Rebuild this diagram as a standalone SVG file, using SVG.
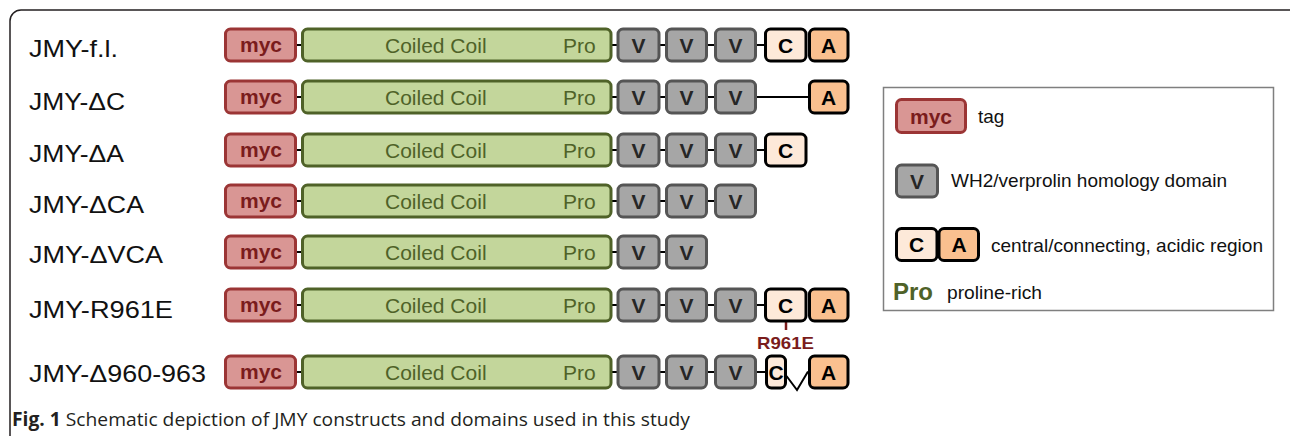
<svg xmlns="http://www.w3.org/2000/svg" width="1290" height="436" viewBox="0 0 1290 436">
<style>
.lbl{font-family:"Liberation Sans",Arial,sans-serif;font-size:24px;fill:#111}
.myc{fill:#d99694;stroke:#9b3535;stroke-width:3}
.coil{fill:#c3d69b;stroke:#4f6228;stroke-width:3}
.v{fill:#a6a6a6;stroke:#555;stroke-width:3}
.c{fill:#fde9d9;stroke:#000;stroke-width:3}
.a{fill:#fac08f;stroke:#000;stroke-width:3}
.tm{font-family:"Liberation Sans",Arial,sans-serif;font-size:21px;font-weight:bold;fill:#7a1c1c;text-anchor:middle}
.tc{font-family:"Liberation Sans",Arial,sans-serif;font-size:21px;fill:#4f6228}
.tv{font-family:"Liberation Sans",Arial,sans-serif;font-size:21px;font-weight:bold;fill:#262626;text-anchor:middle}
.tk{font-family:"Liberation Sans",Arial,sans-serif;font-size:21px;font-weight:bold;fill:#000;text-anchor:middle}
.lg{font-family:"Liberation Sans",Arial,sans-serif;font-size:19px;fill:#111}
.ln{stroke:#000;stroke-width:2;fill:none}
</style>
<defs>
<g id="myc"><rect class="myc" x="225.5" y="-16" width="70" height="32" rx="5"/><text class="tm" x="261" y="7">myc</text></g>
<g id="coil"><rect class="coil" x="302.5" y="-16" width="308.5" height="32" rx="5"/><text class="tc" x="385" y="7.5">Coiled Coil</text><text class="tc" x="563" y="7.5">Pro</text></g>
<g id="v1"><rect class="v" x="618" y="-16" width="41" height="32" rx="5"/><text class="tv" x="638.5" y="7.5">V</text></g>
<g id="v2"><rect class="v" x="666.5" y="-16" width="40" height="32" rx="5"/><text class="tv" x="686.5" y="7.5">V</text></g>
<g id="v3"><rect class="v" x="715.5" y="-16" width="40" height="32" rx="5"/><text class="tv" x="735.5" y="7.5">V</text></g>
<g id="cbox"><rect class="c" x="765.5" y="-16" width="40.5" height="32" rx="5"/><text class="tk" x="785.5" y="7.5">C</text></g>
<g id="abox"><rect class="a" x="809.5" y="-16" width="38.5" height="32" rx="5"/><text class="tk" x="828.5" y="7.5">A</text></g>
</defs>
<rect x="10" y="10" width="1300" height="450" rx="11" fill="none" stroke="#231f20" stroke-width="1.5"/>

<g id="connectors">
<path class="ln" d="M296 45H302M611 45H618M659 45H666M706 45H715M755 45H765"/>
<path class="ln" d="M296 97H302M611 97H618M659 97H666M706 97H715M755 97H809"/>
<path class="ln" d="M296 150H302M611 150H618M659 150H666M706 150H715M755 150H765"/>
<path class="ln" d="M296 201H302M611 201H618M659 201H666M706 201H715"/>
<path class="ln" d="M296 252H302M611 252H618M659 252H666"/>
<path class="ln" d="M296 305H302M611 305H618M659 305H666M706 305H715M755 305H765"/>
<path class="ln" d="M296 372H302M611 372H618M659 372H666M706 372H715M755 372H766"/>
<polyline class="ln" points="786.5,376 797,390 808,371.5"/>
<line x1="786" y1="322" x2="786" y2="330" stroke="#7a1c1c" stroke-width="2.5"/>
</g>

<g id="row-fl">
<text class="lbl" x="29" y="57" textLength="89" lengthAdjust="spacingAndGlyphs">JMY-f.l.</text>
<use href="#myc" y="45"/><use href="#coil" y="45"/><use href="#v1" y="45"/><use href="#v2" y="45"/><use href="#v3" y="45"/><use href="#cbox" y="45"/><use href="#abox" y="45"/>
</g>
<g id="row-dC">
<text class="lbl" x="29" y="110" textLength="96" lengthAdjust="spacingAndGlyphs">JMY-ΔC</text>
<use href="#myc" y="97"/><use href="#coil" y="97"/><use href="#v1" y="97"/><use href="#v2" y="97"/><use href="#v3" y="97"/><use href="#abox" y="97"/>
</g>
<g id="row-dA">
<text class="lbl" x="29" y="162" textLength="95" lengthAdjust="spacingAndGlyphs">JMY-ΔA</text>
<use href="#myc" y="150"/><use href="#coil" y="150"/><use href="#v1" y="150"/><use href="#v2" y="150"/><use href="#v3" y="150"/><use href="#cbox" y="150"/>
</g>
<g id="row-dCA">
<text class="lbl" x="29" y="213" textLength="115" lengthAdjust="spacingAndGlyphs">JMY-ΔCA</text>
<use href="#myc" y="201"/><use href="#coil" y="201"/><use href="#v1" y="201"/><use href="#v2" y="201"/><use href="#v3" y="201"/>
</g>
<g id="row-dVCA">
<text class="lbl" x="29" y="263" textLength="134" lengthAdjust="spacingAndGlyphs">JMY-ΔVCA</text>
<use href="#myc" y="252"/><use href="#coil" y="252"/><use href="#v1" y="252"/><use href="#v2" y="252"/>
</g>
<g id="row-R961E">
<text class="lbl" x="29" y="318" textLength="144" lengthAdjust="spacingAndGlyphs">JMY-R961E</text>
<use href="#myc" y="305"/><use href="#coil" y="305"/><use href="#v1" y="305"/><use href="#v2" y="305"/><use href="#v3" y="305"/><use href="#cbox" y="305"/><use href="#abox" y="305"/>
<text x="785.5" y="349" font-family="Liberation Sans, Arial, sans-serif" font-size="17" font-weight="bold" fill="#7a1c1c" text-anchor="middle" textLength="57" lengthAdjust="spacingAndGlyphs">R961E</text>
</g>
<g id="row-d960-963">
<text class="lbl" x="29" y="382" textLength="177" lengthAdjust="spacingAndGlyphs">JMY-Δ960-963</text>
<use href="#myc" y="372"/><use href="#coil" y="372"/><use href="#v1" y="372"/><use href="#v2" y="372"/><use href="#v3" y="372"/>
<rect class="c" x="766.5" y="356" width="19" height="32" rx="5"/><text class="tk" x="776" y="379.5">C</text>
<use href="#abox" y="372"/>
</g>

<g id="legend">
<rect x="883.5" y="87.5" width="390" height="223" fill="#fff" stroke="#7f7f7f" stroke-width="1.5"/>
<rect class="myc" x="896.5" y="99.5" width="69" height="33" rx="5"/><text class="tm" x="931" y="123.5">myc</text>
<text class="lg" x="978" y="123">tag</text>
<rect class="v" x="896.5" y="165" width="41" height="32" rx="5"/><text class="tv" x="917" y="188.5">V</text>
<text class="lg" x="951" y="187" textLength="276" lengthAdjust="spacingAndGlyphs">WH2/verprolin homology domain</text>
<rect class="c" x="896.5" y="228.5" width="40.5" height="32" rx="5"/><text class="tk" x="916.5" y="252">C</text>
<rect class="a" x="939" y="228.5" width="39.5" height="32" rx="5"/><text class="tk" x="959" y="252">A</text>
<text class="lg" x="991" y="252" textLength="272" lengthAdjust="spacingAndGlyphs">central/connecting, acidic region</text>
<text x="893" y="300" font-family="Liberation Sans, Arial, sans-serif" font-size="24" font-weight="bold" fill="#4f6228">Pro</text>
<text class="lg" x="947" y="299" textLength="95" lengthAdjust="spacingAndGlyphs">proline-rich</text>
</g>

<g id="caption">
<text x="12" y="426" font-family="Open Sans, Liberation Sans, sans-serif" font-size="19" fill="#231f20" textLength="678" lengthAdjust="spacingAndGlyphs"><tspan font-weight="bold">Fig. 1</tspan> Schematic depiction of JMY constructs and domains used in this study</text>
</g>
</svg>
